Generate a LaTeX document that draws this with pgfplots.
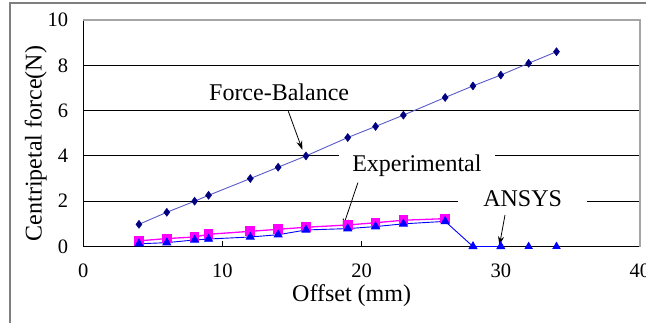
\documentclass[border=0pt]{standalone}
\usepackage{fontspec}
\setmainfont{Liberation Serif}
\usepackage{pgfplots}
\pgfplotsset{compat=1.18}
\usetikzlibrary{arrows.meta}
\definecolor{fbline}{HTML}{5A5AC8}
\definecolor{fbmark}{HTML}{000080}
\definecolor{expc}{HTML}{FF00FF}
\definecolor{ansc}{HTML}{0000FF}
\definecolor{frame}{HTML}{7F7F7F}
\definecolor{border}{HTML}{A6A6A6}
\begin{document}
\begin{tikzpicture}
\useasboundingbox (0,0) rectangle (646pt,322pt);
\draw[frame, line width=1.4pt] (10pt,-2pt) -- (10pt,319pt) -- (648pt,319pt);
\begin{axis}[
  at={(83.3pt,75.5pt)}, anchor=south west,
  scale only axis, width=556.7pt, height=226.5pt,
  xmin=0, xmax=40, ymin=0, ymax=10,
  xtick={0,10,20,30,40}, ytick={0,2,4,6,8,10},
  axis lines*=left,
  axis line style={black, line width=1.1pt},
  xtick align=inside, major tick length=6pt,
  xtick style={black, line width=0.8pt},
  ytick style={draw=none},
  ymajorgrids, grid style={black, line width=0.9pt},
  clip=false,
  /pgf/number format/assume math mode=true,
  tick label style={font=\fontsize{20.5}{22}\selectfont},
  yticklabel style={anchor=east, inner sep=0pt, xshift=-15pt},
  xticklabel style={anchor=north, inner sep=0pt, yshift=-17pt},
  label style={font=\fontsize{24}{26}\selectfont},
  xlabel={Offset (mm)},
  xlabel style={at={(axis description cs:0.482,0)}, anchor=base, yshift=-55pt, inner sep=0pt},
]
\draw[border, line width=1.5pt] (axis cs:0,10) -- (axis cs:40,10) -- (axis cs:40,0);
% Force-Balance
\addplot[fbline, line width=0.9pt, mark=diamond*, mark size=4pt,
  mark options={fbmark, fill=fbmark, line width=0.5pt}] coordinates {
(4,0.98) (6,1.51) (8,2.0) (9,2.26) (12,3.0) (14,3.5) (16,4.0) (19,4.81) (21,5.3) (23,5.8) (26,6.58) (28,7.09) (30,7.57) (32,8.09) (34,8.6)};
% Experimental
\addplot[expc, line width=1.3pt, mark=square*, mark size=4.2pt,
  mark options={expc, fill=expc}] coordinates {
(4,0.25) (6,0.35) (8,0.42) (9,0.54) (12,0.67) (14,0.76) (16,0.85) (19,0.95) (21,1.05) (23,1.16) (26,1.23)};
% ANSYS
\addplot[ansc, line width=0.9pt, mark=triangle*, mark size=4.5pt,
  mark options={ansc, fill=ansc}] coordinates {
(4,0.12) (6,0.17) (8,0.29) (9,0.33) (12,0.42) (14,0.52) (16,0.73) (19,0.79) (21,0.88) (23,1.0) (26,1.11) (28,0) (30,0)};
\addplot[ansc, only marks, mark=triangle*, mark size=4.5pt,
  mark options={ansc, fill=ansc}] coordinates {(32,0) (34,0)};
% labels
\node[rotate=90, anchor=base, inner sep=0pt, font=\fontsize{24}{26}\selectfont]
  at (axis description cs:-0.0747,0.455) {Centripetal force(N)};
\node[fill=white, inner sep=0pt, minimum width=156pt, minimum height=22pt, anchor=base,
  font=\fontsize{24}{26}\selectfont] at (axis cs:23.97,3.31) {Experimental};
\node[fill=white, inner sep=0pt, minimum width=129pt, minimum height=22pt, anchor=base,
  font=\fontsize{24}{26}\selectfont] at (axis cs:31.57,1.76) {ANSYS};
\node[inner sep=0pt, anchor=base, font=\fontsize{24}{26}\selectfont] at (axis cs:14.07,6.45) {Force-Balance};
\draw[black, line width=0.8pt, -{Stealth[length=9pt,width=6pt]}] (axis cs:14.73,5.97) -- (axis cs:15.74,4.27);
\draw[black, line width=0.8pt, -{Stealth[length=9pt,width=6pt]}] (axis cs:19.73,2.82) -- (axis cs:18.65,0.85);
\draw[black, line width=0.8pt, -{Stealth[length=9pt,width=6pt]}] (axis cs:30.3,1.39) -- (axis cs:29.9,0.05);
\end{axis}
\end{tikzpicture}
\end{document}
